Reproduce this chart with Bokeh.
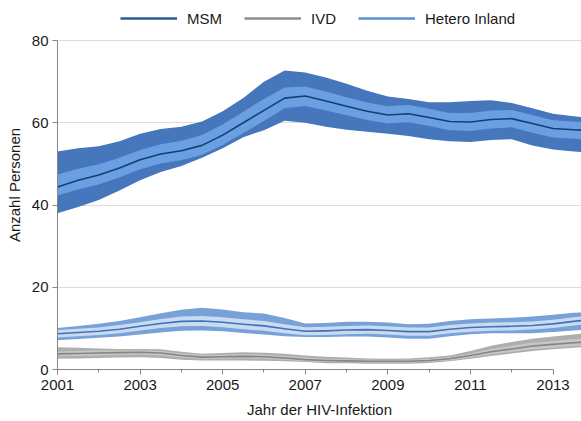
from bokeh.plotting import figure
from bokeh.models import Range1d, FixedTicker, Legend, LegendItem
from bokeh.embed import file_html
from bokeh.resources import INLINE

# Jahr der HIV-Infektion
years = [2001.0, 2001.5, 2002.0, 2002.5, 2003.0, 2003.5, 2004.0, 2004.5, 2005.0,
         2005.5, 2006.0, 2006.5, 2007.0, 2007.5, 2008.0, 2008.5, 2009.0, 2009.5,
         2010.0, 2010.5, 2011.0, 2011.5, 2012.0, 2012.5, 2013.0, 2013.5, 2013.7]

# MSM: Schaetzwert, inneres und aeusseres Intervall
msm_mid = [44.4, 46.0, 47.3, 49.0, 51.0, 52.4, 53.2, 54.5, 57.0, 60.0, 63.0, 66.0, 66.5,
           65.3, 64.0, 62.8, 61.9, 62.2, 61.3, 60.3, 60.2, 60.8, 61.0, 59.8, 58.6, 58.3, 58.2]
msm_in_hi = [47.4, 48.8, 49.9, 51.5, 53.4, 54.8, 55.6, 57.0, 59.6, 62.7, 65.8, 68.6, 68.8,
             67.6, 66.2, 64.9, 64.0, 64.3, 63.4, 62.4, 62.4, 63.0, 63.1, 61.9, 60.6, 60.3, 60.2]
msm_in_lo = [42.3, 43.8, 45.0, 46.7, 48.7, 50.1, 50.9, 52.2, 54.6, 57.5, 60.4, 63.5, 64.1,
             63.0, 61.8, 60.7, 59.8, 60.1, 59.2, 58.2, 58.0, 58.6, 58.9, 57.6, 56.4, 56.1, 56.0]
msm_out_hi = [53.0, 53.8, 54.3, 55.5, 57.3, 58.5, 59.0, 60.3, 62.8, 66.0, 70.0, 72.7, 72.2,
              71.0, 69.5, 67.8, 66.4, 65.8, 65.0, 65.0, 65.3, 65.5, 64.8, 63.5, 62.2, 61.6, 61.4]
msm_out_lo = [38.0, 39.5, 41.2, 43.5, 46.0, 48.0, 49.5, 51.5, 53.8, 56.5, 58.2, 60.5, 60.0,
              59.0, 58.3, 57.8, 57.3, 56.8, 56.0, 55.5, 55.3, 55.8, 56.0, 54.5, 53.5, 53.0, 52.9]

# IVD
ivd_mid = [3.8, 3.9, 4.0, 4.1, 4.2, 4.0, 3.4, 3.0, 3.1, 3.2, 3.1, 2.8, 2.4, 2.2, 2.1, 2.0,
           2.0, 2.0, 2.2, 2.6, 3.4, 4.3, 5.0, 5.7, 6.1, 6.5, 6.6]
ivd_in_hi = [4.4, 4.5, 4.6, 4.6, 4.7, 4.5, 3.9, 3.5, 3.6, 3.7, 3.6, 3.3, 2.9, 2.6, 2.5, 2.4,
             2.3, 2.4, 2.6, 3.0, 3.9, 5.0, 5.8, 6.5, 6.9, 7.4, 7.5]
ivd_in_lo = [3.2, 3.3, 3.4, 3.5, 3.6, 3.4, 2.9, 2.6, 2.6, 2.7, 2.6, 2.4, 2.0, 1.8, 1.8, 1.7,
             1.7, 1.7, 1.9, 2.2, 2.9, 3.7, 4.3, 4.9, 5.3, 5.7, 5.8]
ivd_out_hi = [5.4, 5.3, 5.1, 5.0, 5.0, 4.9, 4.3, 3.8, 4.0, 4.2, 4.1, 3.8, 3.4, 3.1, 2.9, 2.7,
              2.6, 2.7, 3.0, 3.4, 4.5, 5.8, 6.7, 7.5, 8.0, 8.5, 8.7]
ivd_out_lo = [2.6, 2.7, 2.8, 2.9, 3.0, 2.8, 2.4, 2.2, 2.2, 2.2, 2.1, 2.0, 1.8, 1.5, 1.5, 1.4,
              1.4, 1.4, 1.6, 2.0, 2.6, 3.3, 3.9, 4.5, 4.9, 5.3, 5.4]

# Hetero Inland
het_mid = [8.7, 9.0, 9.3, 9.8, 10.5, 11.2, 11.7, 11.8, 11.5, 11.0, 10.6, 9.9, 9.3, 9.4, 9.6,
           9.7, 9.5, 9.2, 9.2, 9.8, 10.2, 10.4, 10.5, 10.7, 11.1, 11.7, 11.9]
het_in_hi = [9.6, 9.9, 10.2, 10.8, 11.5, 12.3, 12.9, 13.0, 12.7, 12.2, 11.8, 11.0, 10.3, 10.4,
             10.6, 10.7, 10.5, 10.2, 10.2, 10.8, 11.2, 11.4, 11.5, 11.7, 12.1, 12.7, 12.9]
het_in_lo = [7.8, 8.1, 8.4, 8.8, 9.5, 10.1, 10.5, 10.6, 10.3, 9.8, 9.4, 8.8, 8.3, 8.4, 8.6,
             8.7, 8.5, 8.2, 8.2, 8.8, 9.2, 9.4, 9.5, 9.7, 10.1, 10.7, 10.9]
het_out_hi = [10.1, 10.6, 11.1, 11.8, 12.7, 13.7, 14.5, 15.0, 14.6, 13.9, 13.6, 12.5, 11.2,
              11.3, 11.6, 11.6, 11.4, 11.0, 11.1, 11.8, 12.2, 12.4, 12.6, 12.9, 13.3, 13.8, 13.9]
het_out_lo = [7.1, 7.4, 7.7, 8.0, 8.5, 9.0, 9.4, 9.5, 9.3, 8.9, 8.5, 8.1, 7.9, 7.9, 8.0, 8.0,
              7.8, 7.5, 7.5, 8.1, 8.6, 8.8, 8.8, 8.8, 9.1, 9.5, 9.6]

series_names = ["MSM", "IVD", "Hetero Inland"]

# axis ticks
x_major_ticks = [2001, 2003, 2005, 2007, 2009, 2011, 2013]
x_minor_ticks = [2002, 2004, 2006, 2008, 2010, 2012]
y_ticks = [0, 20, 40, 60, 80]

FONT = "Liberation Sans"
TEXT = "#1a1a1a"
AXIS = "#868686"

# the y range reaches above 80 to leave a strip for the legend at the top
p = figure(width=581, height=421, output_backend="svg", toolbar_location=None,
           x_range=Range1d(2001, 2013.69), y_range=Range1d(0, 89.73),
           min_border_left=57, min_border_right=0, min_border_top=0,
           min_border_bottom=52)
p.outline_line_color = None
p.background_fill_color = "white"
p.border_fill_color = "white"

styles = [
    # name, mid, in_hi, in_lo, out_hi, out_lo, outer, inner, line, legend colour
    (series_names[0], msm_mid, msm_in_hi, msm_in_lo, msm_out_hi, msm_out_lo,
     "#4676bc", "#6a9fe2", "#163f73", "#2a5a94"),
    (series_names[1], ivd_mid, ivd_in_hi, ivd_in_lo, ivd_out_hi, ivd_out_lo,
     "#aeaeae", "#c6c6c6", "#858585", "#8c8c8c"),
    (series_names[2], het_mid, het_in_hi, het_in_lo, het_out_hi, het_out_lo,
     "#78a1d8", "#c9dbf3", "#3f72b6", "#5b8fd6"),
]

items = []
for name, mid, ihi, ilo, ohi, olo, c_out, c_in, c_line, c_leg in styles:
    p.varea(x=years, y1=olo, y2=ohi, fill_color=c_out)
    p.varea(x=years, y1=ilo, y2=ihi, fill_color=c_in)
    p.line(x=years, y=mid, line_color=c_line, line_width=1.6, line_join="round")
    leg = p.line(x=[years[0]], y=[mid[0]], line_color=c_leg, line_width=2.5, visible=False)
    items.append(LegendItem(label=name, renderers=[leg]))

legend = Legend(items=items, orientation="horizontal", location=(63, 341),
                label_text_font=FONT, label_text_font_size="15px",
                label_text_color=TEXT, glyph_width=57, glyph_height=20,
                label_height=20, label_standoff=10, spacing=22, padding=0, margin=0,
                border_line_color=None, background_fill_alpha=0)
p.add_layout(legend, "center")

p.xaxis.ticker = FixedTicker(ticks=x_major_ticks, minor_ticks=x_minor_ticks)
p.xaxis.bounds = (x_major_ticks[0], x_major_ticks[-1])
p.xaxis.axis_label = "Jahr der HIV-Infektion"
p.yaxis.ticker = FixedTicker(ticks=y_ticks, minor_ticks=[])
p.yaxis.bounds = (y_ticks[0], y_ticks[-1])
p.yaxis.axis_label = "Anzahl Personen"

for ax in (p.xaxis[0], p.yaxis[0]):
    ax.axis_line_color = AXIS
    ax.major_tick_line_color = AXIS
    ax.minor_tick_line_color = AXIS
    ax.major_tick_in = 0
    ax.major_tick_out = 5
    ax.minor_tick_in = 0
    ax.minor_tick_out = 3
    ax.major_label_text_font = FONT
    ax.major_label_text_font_size = "15px"
    ax.major_label_text_color = TEXT
    ax.axis_label_text_font = FONT
    ax.axis_label_text_font_size = "15px"
    ax.axis_label_text_font_style = "normal"
    ax.axis_label_text_color = TEXT
p.yaxis.minor_tick_line_color = None
p.xaxis.major_label_standoff = 5
p.xaxis.axis_label_standoff = 8
p.yaxis.major_label_standoff = 4
p.yaxis.axis_label_standoff = 6

p.xgrid.grid_line_color = None
p.ygrid.grid_line_color = "#dcdcdc"
p.ygrid.ticker = FixedTicker(ticks=y_ticks)

open("out.html", "w").write(file_html(p, INLINE))
